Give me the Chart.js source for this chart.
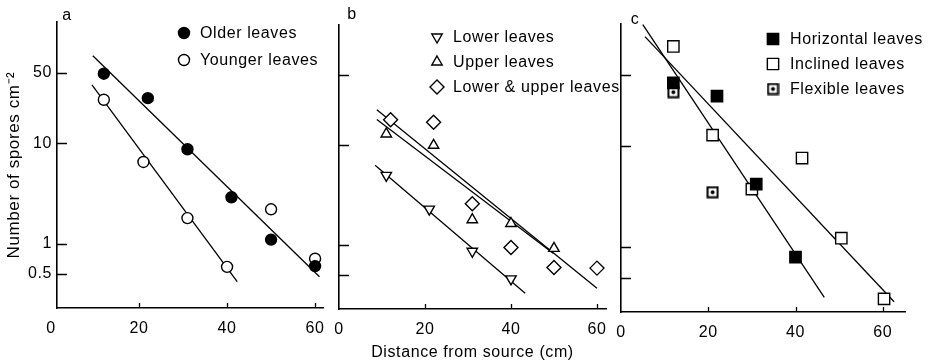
<!DOCTYPE html>
<html lang="en">
<head>
  <meta charset="UTF-8" />
  <title>Number of spores vs distance from source</title>
  <script src="https://cdn.jsdelivr.net/npm/chart.js"></script>
  <style>
    body { margin: 0; background: #fff; }
    .wrap { position: relative; width: 935px; height: 360px; overflow: hidden; }
    .wrap canvas { position: absolute; top: 0; }
  </style>
</head>
<body>
  <div class="wrap">
    <canvas id="chartA" width="340" height="360" style="left:0px"></canvas>
    <canvas id="chartB" width="320" height="360" style="left:300px"></canvas>
    <canvas id="chartC" width="335" height="360" style="left:600px"></canvas>
  </div>

<script>
  // tick values shared by the three panels
  const distTicks = [0, 20, 40, 60]
  const sporeTicks = [0.5, 1, 10, 50]
  const sporeMin = 0.23
  const sporeMax = 160

  // panel a
  const olderX = [12, 22, 31, 41, 50, 60]
  const olderY = [49, 28, 8.7, 2.9, 1.1, 0.6]
  const youngerX = [12, 21, 31, 40, 50, 60]
  const youngerY = [27, 6.5, 1.8, 0.59, 2.2, 0.71]
  const olderFitX = [9.5, 61]
  const olderFitY = [74, 0.47]
  const youngerFitX = [9.3, 42.3]
  const youngerFitY = [38, 0.42]

  // panel b
  const lowerX = [11, 21, 31, 40]
  const lowerY = [5.0, 2.3, 0.87, 0.46]
  const upperX = [11, 22, 31, 40, 50]
  const upperY = [13, 10, 1.8, 1.65, 0.93]
  const bothX = [12, 22, 31, 40, 50, 60]
  const bothY = [18, 17, 2.6, 0.95, 0.6, 0.59]
  const lowerFitX = [8.4, 43.3]
  const lowerFitY = [6.3, 0.33]
  const upperFitX = [8.8, 49.8]
  const upperFitY = [18.1, 0.83]
  const bothFitX = [8.8, 60]
  const bothFitY = [22.7, 0.37]

  // panel c
  const horizX = [12, 22, 31, 40]
  const horizY = [42, 31, 4.2, 0.8]
  const inclX = [12, 21, 30, 41.5, 50.5, 60.3]
  const inclY = [96, 12.8, 3.75, 7.6, 1.23, 0.31]
  const flexX = [12, 21]
  const flexY = [34, 3.5]
  const steepFitX = [5.0, 46.6]
  const steepFitY = [158, 0.32]
  const shallowFitX = [5.5, 62.6]
  const shallowFitY = [120, 0.29]

  const FONT = '"Liberation Sans", Arial, sans-serif'
  Chart.defaults.font.family = FONT
  Chart.defaults.font.size = 16
  Chart.defaults.color = '#000'

  const pts = (xs, ys) => xs.map((x, i) => ({ x: x, y: ys[i] }))

  // square with a dot in the middle (flexible leaves)
  function dottedSquare() {
    const c = document.createElement('canvas')
    c.width = 13
    c.height = 13
    const g = c.getContext('2d')
    g.fillStyle = '#fff'
    g.fillRect(1, 1, 11, 11)
    g.strokeStyle = '#000'
    g.lineWidth = 2
    g.strokeRect(1.5, 1.5, 10, 10)
    g.fillStyle = '#000'
    g.beginPath()
    g.arc(6.5, 6.5, 2, 0, Math.PI * 2)
    g.fill()
    return c
  }

  function pointSet(label, xs, ys, style, fill, radius, rotation) {
    return {
      label: label,
      data: pts(xs, ys),
      showLine: false,
      pointStyle: style,
      pointRotation: rotation || 0,
      pointRadius: radius,
      backgroundColor: fill,
      borderColor: '#000',
      pointBorderWidth: 1.4,
      borderWidth: 1.4,
      order: 1
    }
  }

  function fitLine(xs, ys) {
    return {
      label: '',
      data: pts(xs, ys),
      showLine: true,
      pointRadius: 0,
      borderColor: '#000',
      borderWidth: 1.3,
      fill: false,
      order: 2
    }
  }

  // inward tick marks on both axes
  const inwardTicks = {
    id: 'inwardTicks',
    afterDraw(chart, args, opts) {
      const { ctx, chartArea, scales } = chart
      ctx.save()
      ctx.strokeStyle = '#000'
      ctx.lineWidth = 1.3
      ctx.beginPath()
      scales.y.ticks.forEach(t => {
        const py = Math.round(scales.y.getPixelForValue(t.value)) + 0.5
        ctx.moveTo(chartArea.left, py)
        ctx.lineTo(chartArea.left + opts.yLen, py)
      })
      scales.x.ticks.forEach(t => {
        if (t.value <= scales.x.min) return
        const px = Math.round(scales.x.getPixelForValue(t.value)) + 0.5
        ctx.moveTo(px, chartArea.bottom)
        ctx.lineTo(px, chartArea.bottom - opts.xLen)
      })
      ctx.stroke()
      ctx.restore()
    }
  }

  // panel letter + legend inside the plot
  const panelDecor = {
    id: 'panelDecor',
    beforeDraw(chart) {
      chart.ctx.letterSpacing = '0.6px'
    },
    afterDraw(chart, args, opts) {
      const ctx = chart.ctx
      ctx.save()
      ctx.fillStyle = '#000'
      ctx.font = '16px ' + FONT
      ctx.textAlign = 'center'
      ctx.textBaseline = 'middle'
      ctx.fillText(opts.letter, opts.letterX, opts.letterY)

      ctx.textAlign = 'left'
      let y = opts.legendY
      chart.data.datasets.forEach(ds => {
        if (!ds.label) return
        ctx.fillStyle = ds.backgroundColor
        ctx.strokeStyle = '#000'
        ctx.lineWidth = 1.4
        Chart.helpers.drawPoint(ctx, {
          pointStyle: ds.pointStyle,
          rotation: ds.pointRotation,
          radius: ds.pointRadius,
          borderWidth: 1.4
        }, opts.legendX, y)
        ctx.fillStyle = '#000'
        ctx.fillText(ds.label, opts.textX, y + 1)
        y += opts.gap
      })
      ctx.restore()
    }
  }

  function makeChart(cfg) {
    const canvas = document.getElementById(cfg.id)
    return new Chart(canvas, {
      type: 'scatter',
      data: { datasets: cfg.datasets },
      plugins: [inwardTicks, panelDecor],
      options: {
        responsive: false,
        animation: false,
        events: [],
        layout: { padding: { left: 0, right: cfg.padRight, top: cfg.top, bottom: 0 } },
        plugins: {
          legend: { display: false },
          tooltip: { enabled: false },
          inwardTicks: { yLen: 10, xLen: 5 },
          panelDecor: cfg.decor
        },
        scales: {
          x: {
            type: 'linear',
            min: cfg.xMin,
            max: cfg.xMax,
            afterBuildTicks: s => { s.ticks = distTicks.map(v => ({ value: v })) },
            afterFit: s => { s.height = canvas.height - cfg.bottom },
            grid: { display: false, drawTicks: false },
            border: { display: true, color: '#000', width: 1.6 },
            ticks: { autoSkip: false, maxRotation: 0, padding: 11, font: { size: 16 }, callback: v => String(v) },
            title: {
              display: !!cfg.xTitle,
              text: cfg.xTitle,
              font: { size: 16, lineHeight: 1 },
              padding: { top: 0, bottom: -1 }
            }
          },
          y: {
            type: 'logarithmic',
            min: sporeMin,
            max: sporeMax,
            afterBuildTicks: s => { s.ticks = sporeTicks.map(v => ({ value: v })) },
            afterFit: s => { s.width = cfg.left },
            grid: { display: false, drawTicks: false },
            border: { display: true, color: '#000', width: 1.6 },
            ticks: { autoSkip: false, padding: 5, font: { size: 16 }, callback: v => cfg.yLabels ? String(v) : '' },
            title: {
              display: !!cfg.yTitle,
              text: cfg.yTitle,
              font: { size: 17 },
              padding: { top: 4, bottom: 0 }
            }
          }
        }
      }
    })
  }

  makeChart({
    id: 'chartA', left: 57, padRight: 17, top: 22, bottom: 308,
    xMin: 1.36, xMax: 61.8, yLabels: true,
    yTitle: 'Number of spores cm⁻²', xTitle: '',
    decor: { letter: 'a', letterX: 67, letterY: 16, legendX: 184, legendY: 33, gap: 27, textX: 200 },
    datasets: [
      pointSet('Older leaves', olderX, olderY, 'circle', '#000', 5.5),
      pointSet('Younger leaves', youngerX, youngerY, 'circle', '#fff', 5.5),
      fitLine(olderFitX, olderFitY),
      fitLine(youngerFitX, youngerFitY)
    ]
  })

  makeChart({
    id: 'chartB', left: 39, padRight: 14, top: 25, bottom: 309,
    xMin: 0, xMax: 62.1, yLabels: false,
    yTitle: '', xTitle: 'Distance from source (cm)',
    decor: { letter: 'b', letterX: 52, letterY: 15, legendX: 137, legendY: 37, gap: 25, textX: 153 },
    datasets: [
      pointSet('Lower leaves', lowerX, lowerY, 'triangle', '#fff', 6, 180),
      pointSet('Upper leaves', upperX, upperY, 'triangle', '#fff', 6),
      pointSet('Lower & upper leaves', bothX, bothY, 'rectRot', '#fff', 7),
      fitLine(lowerFitX, lowerFitY),
      fitLine(upperFitX, upperFitY),
      fitLine(bothFitX, bothFitY)
    ]
  })

  makeChart({
    id: 'chartC', left: 21, padRight: 30, top: 24, bottom: 312,
    xMin: 0, xMax: 65.1, yLabels: false,
    yTitle: '', xTitle: '',
    decor: { letter: 'c', letterX: 35, letterY: 20, legendX: 173, legendY: 39, gap: 25, textX: 190 },
    datasets: [
      pointSet('Horizontal leaves', horizX, horizY, 'rect', '#000', 8),
      pointSet('Inclined leaves', inclX, inclY, 'rect', '#fff', 8),
      pointSet('Flexible leaves', flexX, flexY, dottedSquare(), '#fff', 6),
      fitLine(steepFitX, steepFitY),
      fitLine(shallowFitX, shallowFitY)
    ]
  })
</script>
</body>
</html>
